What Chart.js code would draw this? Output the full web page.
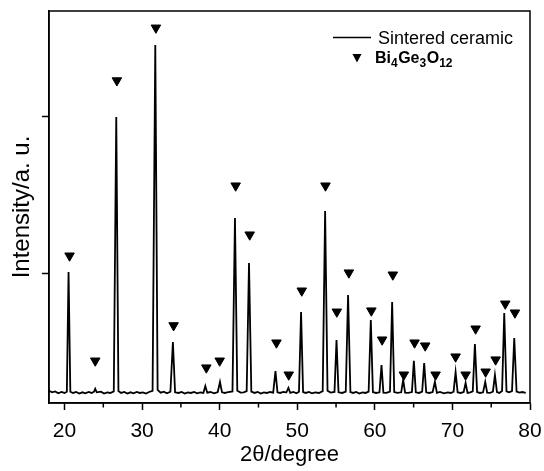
<!DOCTYPE html>
<html><head><meta charset="utf-8">
<script src="https://cdn.jsdelivr.net/npm/chart.js@4"></script>
<style>html,body{margin:0;padding:0;background:#fff}#wrap{width:544px;height:471px;position:relative}</style>
</head><body><div id="wrap"><canvas id="c"></canvas></div>
<script>
// XRD pattern of the sintered ceramic: [2theta (deg), intensity (a.u.)]
const xrdPattern = [
[18.0,250],[18.4,240],[18.8,246],[19.2,234],[19.6,242],[20.0,236],[20.3,244],[20.52,1006],[20.75,244],[21.1,236],[21.5,242],[21.9,232],[22.3,240],[22.7,234],[23.1,242],[23.5,236],[23.8,244],[23.96,262],[24.15,240],[24.7,244],[25.1,232],[25.5,240],[25.9,236],[26.35,246],[26.67,1994],[26.95,248],[27.3,236],[27.7,242],[28.1,232],[28.5,240],[28.9,234],[29.3,242],[29.7,236],[30.1,240],[30.5,232],[30.9,242],[31.35,250],[31.70,2452],[32.0,256],[32.4,238],[32.8,244],[33.2,234],[33.65,244],[33.97,561],[34.25,240],[34.7,236],[35.1,242],[35.5,232],[35.9,240],[36.3,236],[36.7,242],[37.1,234],[37.5,240],[37.9,236],[38.15,280],[38.4,238],[38.8,242],[39.3,234],[39.75,242],[40.04,306],[40.3,240],[40.7,236],[41.1,242],[41.65,246],[41.97,1350],[42.27,250],[42.7,238],[43.1,240],[43.48,248],[43.78,1064],[44.08,244],[44.5,236],[44.9,242],[45.3,232],[45.7,240],[46.1,236],[46.5,242],[46.9,238],[47.19,376],[47.45,240],[47.8,236],[48.2,242],[48.6,240],[48.86,268],[49.1,236],[49.5,242],[49.9,234],[50.22,244],[50.49,752],[50.75,242],[51.1,236],[51.5,242],[51.9,234],[52.3,240],[52.8,236],[53.28,248],[53.59,1395],[53.9,250],[54.3,238],[54.8,242],[55.06,573],[55.32,240],[55.8,236],[56.25,244],[56.55,860],[56.85,242],[57.2,236],[57.6,242],[58.0,232],[58.4,240],[58.8,236],[59.2,244],[59.48,701],[59.75,242],[60.15,236],[60.6,240],[60.86,414],[61.1,238],[61.5,236],[61.95,244],[62.23,815],[62.5,242],[62.9,236],[63.4,240],[63.65,319],[63.9,238],[64.3,236],[64.78,242],[65.03,440],[65.28,240],[65.7,236],[66.1,244],[66.36,427],[66.62,240],[67.0,236],[67.45,242],[67.74,306],[68.0,236],[68.4,242],[68.9,234],[69.4,240],[69.8,236],[70.15,244],[70.41,369],[70.67,240],[71.05,236],[71.45,242],[71.70,299],[71.95,236],[72.3,240],[72.62,246],[72.90,548],[73.18,242],[73.55,236],[73.95,240],[74.23,306],[74.48,238],[74.85,236],[75.22,244],[75.48,350],[75.74,242],[76.05,236],[76.4,248],[76.68,745],[76.97,246],[77.3,240],[77.68,248],[77.97,586],[78.27,244],[78.65,238],[79.0,242],[79.45,236]
];
// Bi4Ge3O12 reflection markers
const bgoAngle = [20.65,23.96,26.75,31.78,34.06,38.28,40.0,42.06,43.87,47.32,48.9,50.58,53.64,55.1,56.65,59.55,60.94,62.32,63.74,65.12,66.49,67.83,70.41,71.70,72.99,74.28,75.57,76.81,78.06];
const bgoMark  = [1110,441,2226,2562,666,397,441,1556,1244,556,352,887,1556,753,1002,760,575,989,352,556,537,352,467,352,645,371,448,804,747];
const xMajorTicks = [20,30,40,50,60,70,80];
const xMinorTicks = [25,35,45,55,65,75];
const yMajorTicks = [1000,2000];
const seriesNames = ['Sintered ceramic','Bi4Ge3O12'];

const FONT = "'Liberation Sans', Arial, sans-serif";

const framePlugin = {
  id: 'frame',
  afterDraw(chart) {
    const ctx = chart.ctx, a = chart.chartArea, xs = chart.scales.x;
    ctx.save();
    ctx.strokeStyle = '#000';
    ctx.lineWidth = 1.5;
    ctx.strokeRect(a.left, a.top, a.right - a.left, a.bottom - a.top);
    // minor ticks
    xMinorTicks.forEach(v => {
      const px = xs.getPixelForValue(v);
      ctx.beginPath(); ctx.moveTo(px, a.bottom); ctx.lineTo(px, a.bottom + 4.5); ctx.stroke();
    });
    // legend
    const lx = a.right - 197;
    ctx.lineWidth = 1.6;
    ctx.beginPath(); ctx.moveTo(lx, 37.5); ctx.lineTo(lx + 38, 37.5); ctx.stroke();
    ctx.fillStyle = '#000';
    ctx.font = "18px " + FONT;
    ctx.textBaseline = 'alphabetic';
    ctx.textAlign = 'left';
    ctx.fillText(seriesNames[0], lx + 45, 43.5);
    // triangle marker
    const tx = lx + 24, ty = 58;
    ctx.beginPath(); ctx.moveTo(tx - 4.5, ty - 4); ctx.lineTo(tx + 4.5, ty - 4); ctx.lineTo(tx, ty + 4.5); ctx.closePath(); ctx.fill();
    // Bi4Ge3O12 with subscripts
    const parts = [['Bi',0],['4',1],['Ge',0],['3',1],['O',0],['12',1]];
    let x = lx + 42;
    parts.forEach(([t, sub]) => {
      ctx.font = 'bold ' + (sub ? 12 : 16) + 'px ' + FONT;
      ctx.fillText(t, x, sub ? 67 : 62.5);
      x += ctx.measureText(t).width + (sub ? 0.5 : 0);
    });
    ctx.restore();
  }
};

new Chart(document.getElementById('c'), {
  data: {
    datasets: [
      {
        type: 'line',
        label: seriesNames[0],
        data: xrdPattern.map(p => ({x: p[0], y: p[1]})),
        borderColor: '#000',
        borderWidth: 1.8,
        pointRadius: 0,
        tension: 0,
        fill: false
      },
      {
        type: 'scatter',
        label: seriesNames[1],
        data: bgoAngle.map((v, i) => ({x: v, y: bgoMark[i]})),
        pointStyle: 'triangle',
        rotation: 180,
        pointRadius: 5.5,
        pointBackgroundColor: '#000',
        pointBorderColor: '#000',
        pointBorderWidth: 1
      }
    ]
  },
  options: {
    responsive: true,
    maintainAspectRatio: false,
    devicePixelRatio: 1,
    animation: false,
    layout: { padding: { top: 11, right: 14, left: 0, bottom: 0 } },
    plugins: { legend: { display: false }, tooltip: { enabled: false } },
    scales: {
      x: {
        type: 'linear',
        min: 18, max: 80,
        afterBuildTicks: s => { s.ticks = xMajorTicks.map(v => ({value: v})); },
        afterFit: s => { s.height = 68; s.paddingLeft = 0; s.paddingRight = 0; },
        ticks: { color: '#000', font: { family: FONT, size: 21 }, padding: 9, maxRotation: 0, autoSkip: false },
        grid: { drawOnChartArea: false, drawTicks: true, tickLength: 7, tickColor: '#000', tickWidth: 1.5 },
        border: { display: true, color: '#000', width: 1.5 },
        title: { display: true, text: '2θ/degree', color: '#000', font: { family: FONT, size: 22 }, padding: { top: 0, bottom: 3 } }
      },
      y: {
        type: 'linear',
        min: 172, max: 2669,
        afterBuildTicks: s => { s.ticks = yMajorTicks.map(v => ({value: v})); },
        afterFit: s => { s.width = 49; s.paddingTop = 0; s.paddingBottom = 0; },
        ticks: { display: false },
        grid: { drawOnChartArea: false, drawTicks: true, tickLength: 7, tickColor: '#000', tickWidth: 1.5 },
        border: { display: true, color: '#000', width: 1.5 },
        title: { display: true, text: 'Intensity/a. u.', color: '#000', font: { family: FONT, size: 24 }, padding: { top: 8, bottom: 0 } }
      }
    }
  },
  plugins: [framePlugin]
});
</script></body></html>
